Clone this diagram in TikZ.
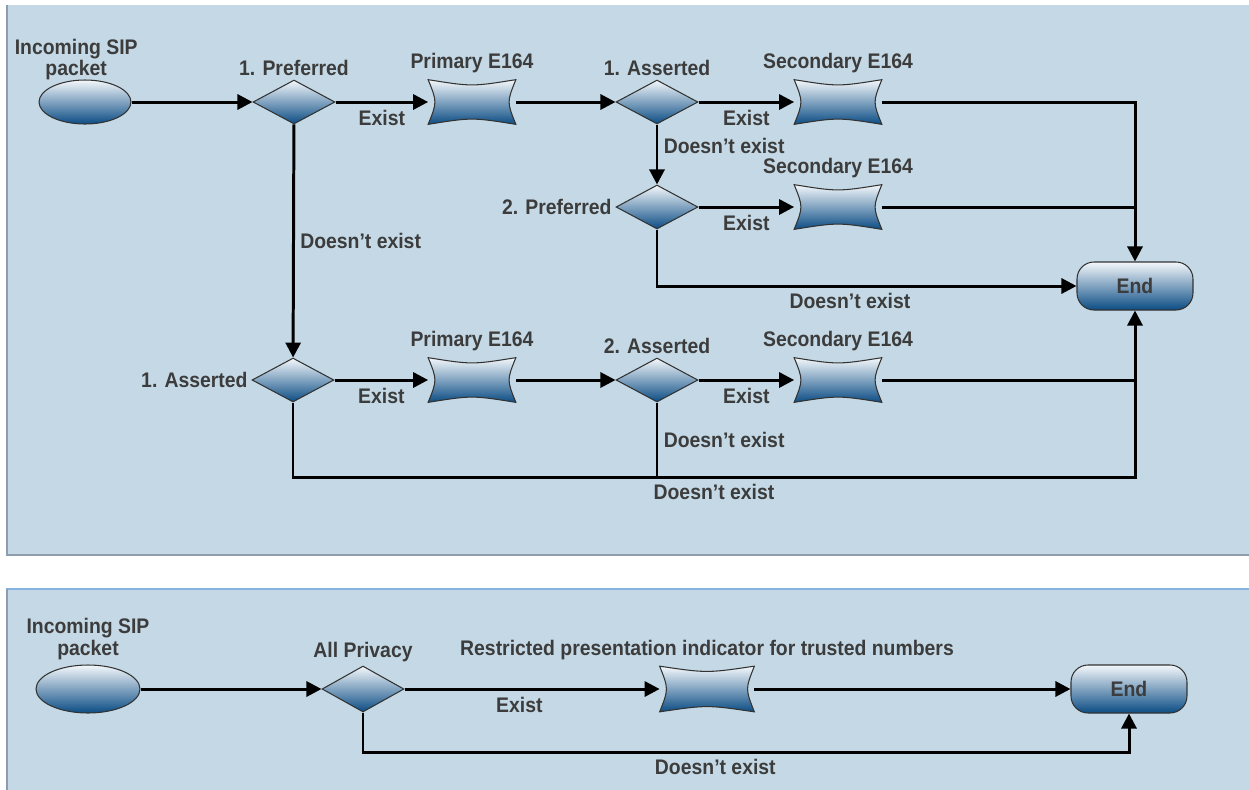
\documentclass[tikz,border=0pt]{standalone}
\usepackage{fontspec}
\setmainfont{Liberation Sans}[FakeStretch=0.92]
\usetikzlibrary{arrows.meta,calc,positioning,shapes.geometric}
\definecolor{panelblue}{HTML}{C4D9E5}
\definecolor{paneledge}{HTML}{8E9CAB}
\definecolor{paneltop}{HTML}{86B4E0}
\definecolor{deepblue}{HTML}{0B4C84}
\definecolor{paleblue}{HTML}{F4F8FB}
\definecolor{txtgray}{HTML}{3C3C3C}

\tikzset{
  txt/.style={font=\fontsize{12}{10.5}\selectfont\bfseries, text=txtgray, inner sep=1pt},
  gloss/.style={draw=black!80, line width=0.6pt, top color=paleblue, bottom color=deepblue},
  startnode/.style={ellipse, gloss, minimum width=1.84cm, minimum height=0.88cm, inner sep=0},
  decision/.style={diamond, gloss, minimum width=1.64cm, minimum height=0.88cm, inner sep=0},
  endnode/.style={rectangle, rounded corners=0.34cm, gloss, minimum width=2.32cm, minimum height=0.96cm, txt},
  tapebox/.style={rectangle, minimum width=1.74cm, minimum height=0.88cm, inner sep=0},
  flow/.style={line width=1.7pt, black},
  arr/.style={flow, -{Triangle[length=3mm,width=3mm]}},
  toplbl/.style={label={[txt,label distance=1pt]above:#1}},
  tapelbl/.style={label={[txt,label distance=2.5pt]above:#1}},
  leftlbl/.style={label={[txt,label distance=1pt]left:#1}},
}

\begin{document}
\begin{tikzpicture}[x=0.02cm,y=-0.02cm]
  \useasboundingbox (0,0) rectangle (1249,789);
  % panels
  \fill[panelblue] (6,5) rectangle (1260,556);
  \draw[paneledge,line width=1.2pt] (7,5) -- (7,555) -- (1260,555);
  \fill[panelblue] (6,588) rectangle (1260,800);
  \draw[paneltop,line width=1.2pt] (6,589) -- (1260,589);
  \draw[paneledge,line width=1.2pt] (7,589) -- (7,800);

  % upper chart
  \node[startnode,label={[txt,align=center,label distance=-1.5pt,xshift=-5pt]above:Incoming SIP\\packet}] (in1) at (85,102) {};
  \node[decision,toplbl={1. Preferred}] (pref1) at (294,102) {};
  \node[tapebox,tapelbl={Primary E164}] (prim1) at (472,102) {};
  \node[decision,toplbl={1. Asserted}] (ass1) at (657,102) {};
  \node[tapebox,tapelbl={Secondary E164}] (sec1) at (838,102) {};
  \node[decision,leftlbl={2. Preferred}] (pref2) at (657,207) {};
  \node[tapebox,tapelbl={Secondary E164}] (sec2) at (838,207) {};
  \node[endnode] (end1) at (1135,286) {End};
  \node[decision,leftlbl={1. Asserted}] (ass2) at (293,380) {};
  \node[tapebox,tapelbl={Primary E164}] (prim2) at (472,380) {};
  \node[decision,toplbl={2. Asserted}] (ass3) at (657,380) {};
  \node[tapebox,tapelbl={Secondary E164}] (sec3) at (838,380) {};
  \coordinate (loop1) at (293,477);

  % lower chart
  \node[startnode,minimum width=2.08cm,minimum height=0.96cm,label={[txt,align=center,label distance=1.5pt]above:Incoming SIP\\packet}] (in2) at (88,689) {};
  \node[decision,minimum height=0.92cm,toplbl={All Privacy}] (allp) at (363,689) {};
  \node[tapebox,minimum width=1.88cm,minimum height=0.9cm,tapelbl={Restricted presentation indicator for trusted numbers}] (restr) at (707,689) {};
  \node[endnode] (end2) at (1129,689) {End};
  \coordinate (loop2) at (363,752);

  % concave boxes
  \foreach \t in {prim1,sec1,sec2,prim2,sec3,restr} {
    \shadedraw[gloss] (\t.north west) .. controls ($(\t.north)+(0,7)$) .. (\t.north east)
      .. controls ($(\t.east)+(-9,0)$) .. (\t.south east)
      .. controls ($(\t.south)+(0,-7)$) .. (\t.south west)
      .. controls ($(\t.west)+(9,0)$) .. cycle;
  }

  % connectors, upper chart
  \draw[arr] (in1) -- (pref1);
  \draw[arr] (pref1) -- node[txt,below=3pt] {Exist} (prim1);
  \draw[arr] (prim1) -- (ass1);
  \draw[arr] (ass1) -- node[txt,below=3pt] {Exist} (sec1);
  \draw[arr] (sec1) -| (end1.north);
  \draw[arr] (ass1) -- node[txt,right=2pt,pos=0.35] {Doesn't exist} (pref2);
  \draw[arr] (pref2) -- node[txt,below=3pt] {Exist} (sec2);
  \draw[flow] (sec2) -- (sec2 -| end1.north);
  \draw[arr] (pref2) |- node[txt,below=2pt,pos=0.73] {Doesn't exist} (end1);
  \draw[arr] (pref1) -- node[txt,right=2pt] {Doesn't exist} (ass2);
  \draw[arr] (ass2) -- node[txt,below=3pt] {Exist} (prim2);
  \draw[arr] (prim2) -- (ass3);
  \draw[arr] (ass3) -- node[txt,below=3pt] {Exist} (sec3);
  \draw[flow] (sec3) -- (sec3 -| end1.south);
  \draw[arr] (ass2) |- node[txt,below=2pt,pos=0.75] {Doesn't exist} (loop1 -| end1.south) -- (end1.south);
  \draw[flow] (ass3) -- node[txt,right=2pt] {Doesn't exist} (ass3 |- loop1);

  % connectors, lower chart
  \draw[arr] (in2) -- (allp);
  \draw[arr] (allp) -- node[txt,below=3pt,pos=0.45] {Exist} (restr);
  \draw[arr] (restr) -- (end2);
  \draw[arr] (allp) |- node[txt,below=2pt,pos=0.73] {Doesn't exist} (loop2 -| end2.south) -- (end2.south);
\end{tikzpicture}
\end{document}
